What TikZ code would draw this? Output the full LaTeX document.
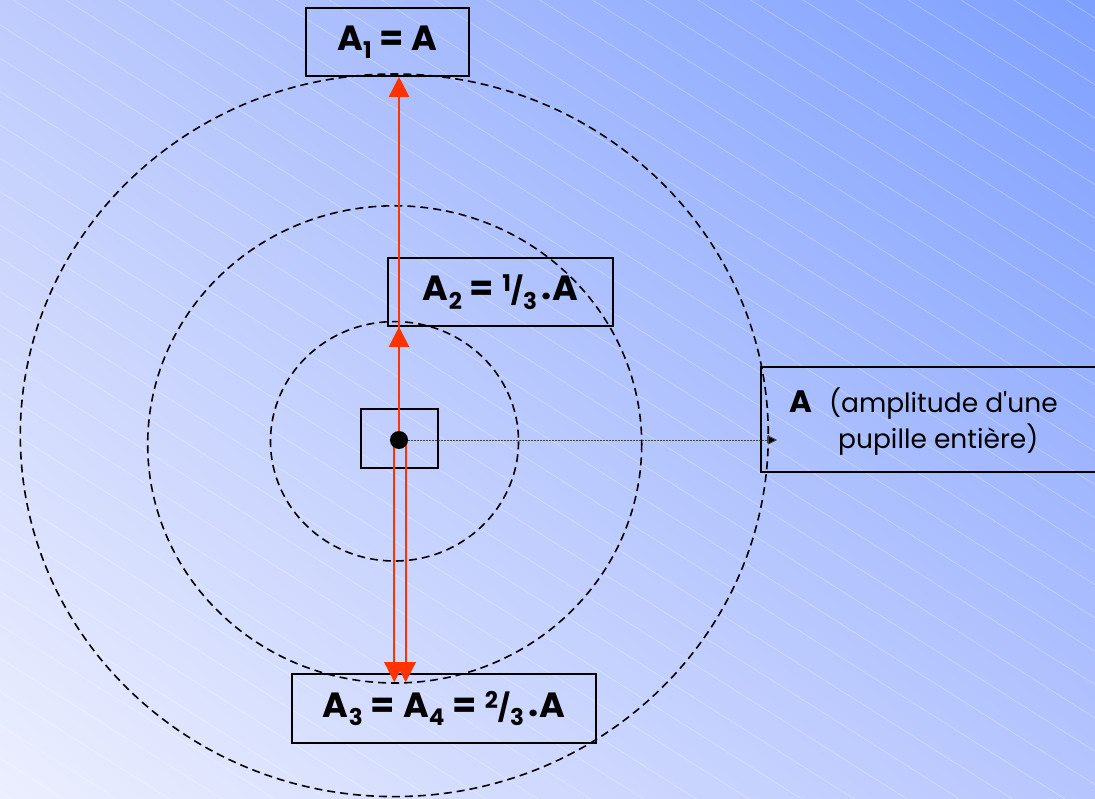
\documentclass[tikz,border=0pt]{standalone}
\usepackage{fontspec}
\setmainfont{Poppins}
\usetikzlibrary{arrows.meta,calc,shadings}
\definecolor{bgUL}{RGB}{190,203,253}
\definecolor{bgUR}{RGB}{126,160,254}
\definecolor{bgLL}{RGB}{236,239,254}
\definecolor{bgLR}{RGB}{182,197,254}
\definecolor{arrowred}{RGB}{255,51,0}
\newcommand\lowidx[1]{\raisebox{-0.24em}{\fontsize{23}{23}\selectfont #1}}
\newcommand\hiidx[1]{\raisebox{0.26em}{\fontsize{23}{23}\selectfont #1}}
\newcommand\slsh{{\fontsize{27}{27}\selectfont /}}
\newcommand\mdot{\hspace{4pt}\raisebox{0.02em}{\fontsize{36}{36}\selectfont .}\hspace{1pt}}
\newcommand\eqs{\hspace{8pt}=\hspace{8pt}}
\begin{document}
\begin{tikzpicture}[x=1pt,y=-1pt,
  stripe/.style={white,opacity=0.3,line width=0.7pt},
  ring/.style={black,line width=1.6pt,dash pattern=on 8pt off 5pt},
  lbl/.style={draw=black,line width=1.6pt,inner sep=0pt,align=center,font=\fontsize{35}{35}\selectfont\bfseries},
  plainbox/.style={draw=black,line width=1.6pt,inner sep=0pt},
  redarrow/.style={arrowred,line width=2pt,-{Triangle[length=20pt,width=20pt]}},
  pointer/.style={black!75,line width=0.8pt,dash pattern=on 2pt off 1pt,-{Triangle[length=9pt,width=9pt,fill=black]}},
  side/.style={inner sep=0pt,font=\fontsize{26.5}{26.5}\selectfont}]
\clip (0,0) rectangle (1095,799);
\shade[upper left=bgUL, upper right=bgUR, lower left=bgLL, lower right=bgLR] (0,0) rectangle (1095,799);
\foreach \k in {-22,...,24}{
  \draw[stripe] (0,{25+33.33*\k}) -- (1095,{25+33.33*\k+693});
}
% rings
\draw[ring] (394.5,441.3) ellipse [x radius=124, y radius=119.7];
\draw[ring] (394.7,444.4) ellipse [x radius=247, y radius=238.6];
\draw[ring] (394.3,435.3) ellipse [x radius=374, y radius=361.3];
% boxes
\node[lbl, minimum width=163pt, minimum height=68pt] (a1) at (387.5,42) {A\lowidx{1}\eqs A};
\node[lbl, minimum width=225pt, minimum height=68pt] (a2) at (500.5,292) {A\lowidx{2}\eqs\hiidx{1}\slsh\lowidx{3}\mdot A};
\node[lbl, minimum width=304pt, minimum height=69pt] (a34) at (444,708.5) {A\lowidx{3}\eqs A\lowidx{4}\eqs\hiidx{2}\slsh\lowidx{3}\mdot A};
\node[plainbox, minimum width=77pt, minimum height=59pt] (sq) at (399.5,438.5) {};
\node[plainbox, minimum width=349pt, minimum height=105pt] (boxA) at (935.5,419.5) {};
\node[side, anchor=base west] (t1) at (789,413) {{\fontsize{31}{31}\selectfont\bfseries A}\hspace{17pt}(amplitude d\textquotesingle une};
\node[side, anchor=base west] (t2) at (838,448) {pupille entière)};
% dot and connectors
\coordinate (dotc) at (399,440);
\coordinate (tipA) at (777,440);
\draw[redarrow] (dotc) -- (dotc |- a1.south);
\draw[redarrow] (dotc) -- (dotc |- a2.south);
\draw[redarrow, shorten >=-9pt] ([xshift=-4.7pt]dotc) -- ([xshift=-4.7pt]dotc |- a34.north);
\draw[redarrow, shorten >=-9pt] ([xshift=6.7pt]dotc) -- ([xshift=6.7pt]dotc |- a34.north);
\draw[pointer] (dotc) -- (tipA);
\node[circle, fill=black, minimum size=18pt, inner sep=0pt] (dot) at (dotc) {};
\end{tikzpicture}
\end{document}
